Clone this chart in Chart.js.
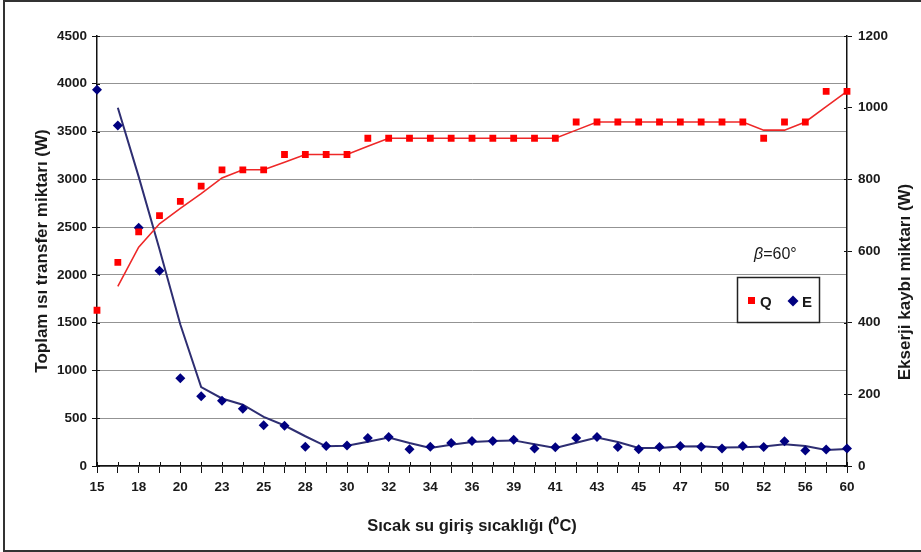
<!DOCTYPE html>
<html>
<head>
<meta charset="utf-8">
<script src="https://cdn.jsdelivr.net/npm/chart.js@4/dist/chart.umd.min.js"></script>
<style>
  html, body { margin: 0; padding: 0; background: #fff; }
  #wrap { position: relative; width: 921px; height: 552px; overflow: hidden; }
  #c { position: absolute; left: 0; top: 0; }
  #frame { position: absolute; left: 3px; top: 0px; width: 940px; height: 552px;
           border: 2px solid #333; box-sizing: border-box; pointer-events: none; }
</style>
</head>
<body>
<div id="wrap">
  <canvas id="c" width="921" height="552"></canvas>
  <div id="frame"></div>
</div>
<script>
// Hot water inlet temperature (°C), one category per measurement
const temperatures = [15, 17, 18, 19, 20, 22, 23, 24, 25, 27, 28, 29, 30, 31, 32, 33, 34, 35, 36,
                      38, 39, 40, 41, 42, 43, 44, 45, 46, 47, 49, 50, 51, 52, 54, 56, 58, 60];

// Total heat transfer Q (W), left axis
const heatTransfer = [1630, 2130, 2450, 2620, 2770, 2930, 3100, 3100, 3100, 3260, 3260, 3260, 3260,
                      3430, 3430, 3430, 3430, 3430, 3430, 3430, 3430, 3430, 3430,
                      3600, 3600, 3600, 3600, 3600, 3600, 3600, 3600, 3600,
                      3430, 3600, 3600, 3920, 3920];

// Exergy loss E (W), right axis
const exergyLoss = [1050, 950, 665, 545, 245, 195, 182, 160, 114, 112, 54, 56, 57, 78, 81, 47, 54, 64,
                    70, 70, 73, 49, 52, 78, 81, 53, 47, 53, 56, 54, 49, 56, 53, 69, 43, 46, 49];

// Axis tick values
const leftTicks = [0, 500, 1000, 1500, 2000, 2500, 3000, 3500, 4000, 4500];
const rightTicks = [0, 200, 400, 600, 800, 1000, 1200];

// Two-period moving-average trend line of a series
function movingAverage(values) {
  return values.map((v, i) => (i === 0 ? null : (values[i - 1] + v) / 2));
}

const FONT = '"Liberation Sans", Arial, sans-serif';
const plainNumber = v => String(v);

const decorations = {
  id: 'decorations',
  afterDraw(chart) {
    const { ctx, chartArea: a, scales } = chart;
    ctx.save();

    // short inner parts of the tick marks
    ctx.strokeStyle = '#111';
    ctx.lineWidth = 1;
    ctx.beginPath();
    scales.x.ticks.forEach((t, i) => {
      const x = Math.round(scales.x.getPixelForTick(i)) + 0.5;
      ctx.moveTo(x, a.bottom - 4); ctx.lineTo(x, a.bottom);
    });
    leftTicks.forEach(v => {
      const y = Math.round(scales.yL.getPixelForValue(v)) + 0.5;
      ctx.moveTo(a.left, y); ctx.lineTo(a.left + 3, y);
    });
    rightTicks.forEach(v => {
      const y = Math.round(scales.yR.getPixelForValue(v)) + 0.5;
      ctx.moveTo(a.right - 3, y); ctx.lineTo(a.right, y);
    });
    ctx.stroke();

    // right axis title, reading bottom to top
    ctx.save();
    ctx.translate(905, 282);
    ctx.rotate(-Math.PI / 2);
    ctx.font = 'bold 17px ' + FONT;
    ctx.fillStyle = '#1a1a1a';
    ctx.textAlign = 'center';
    ctx.textBaseline = 'middle';
    ctx.fillText('Ekserji kaybı miktarı (W)', 0, 0);
    ctx.restore();

    // inclination note
    ctx.fillStyle = '#1a1a1a';
    ctx.textBaseline = 'alphabetic';
    ctx.textAlign = 'left';
    ctx.font = 'italic 16px ' + FONT;
    ctx.fillText('β', 754, 259);
    const bw = ctx.measureText('β').width;
    ctx.font = '16px ' + FONT;
    ctx.fillText('=60°', 754 + bw, 259);

    // legend box
    ctx.fillStyle = '#fff';
    ctx.fillRect(737, 277, 82, 45);
    ctx.strokeStyle = '#222';
    ctx.lineWidth = 1.5;
    ctx.strokeRect(737.5, 277.5, 82, 45);
    ctx.fillStyle = '#ff0000';
    ctx.fillRect(748, 297, 7, 7);
    ctx.fillStyle = '#000080';
    ctx.beginPath();
    ctx.moveTo(793, 295.5); ctx.lineTo(798.5, 301); ctx.lineTo(793, 306.5); ctx.lineTo(787.5, 301);
    ctx.closePath(); ctx.fill();
    ctx.fillStyle = '#1a1a1a';
    ctx.font = 'bold 15px ' + FONT;
    ctx.fillText('Q', 760, 306.5);
    ctx.fillText('E', 802, 306.5);

    ctx.restore();
  }
};

new Chart(document.getElementById('c'), {
  type: 'line',
  data: {
    labels: temperatures,
    datasets: [
      {
        label: 'Q',
        data: heatTransfer,
        yAxisID: 'yL',
        showLine: false,
        pointStyle: 'rect',
        pointRadius: 4.8,
        pointBackgroundColor: '#ff0000',
        pointBorderWidth: 0,
        order: 1
      },
      {
        label: 'E',
        data: exergyLoss,
        yAxisID: 'yR',
        showLine: false,
        pointStyle: 'rectRot',
        pointRadius: 5,
        pointBackgroundColor: '#000080',
        pointBorderWidth: 0,
        order: 1
      },
      {
        label: 'Q trend',
        data: movingAverage(heatTransfer),
        yAxisID: 'yL',
        borderColor: '#ee2828',
        borderWidth: 1.6,
        pointRadius: 0,
        tension: 0,
        order: 2
      },
      {
        label: 'E trend',
        data: movingAverage(exergyLoss),
        yAxisID: 'yR',
        borderColor: '#2e2e72',
        borderWidth: 2,
        pointRadius: 0,
        tension: 0,
        order: 2
      }
    ]
  },
  options: {
    responsive: false,
    animation: false,
    events: [],
    layout: { padding: { top: 36, left: 0, right: 0, bottom: 0 } },
    plugins: { legend: { display: false }, tooltip: { enabled: false } },
    scales: {
      x: {
        type: 'category',
        offset: false,
        grid: { drawOnChartArea: false, drawTicks: true, tickLength: 7, color: '#111', lineWidth: 1 },
        border: { display: true, color: '#111', width: 1.5 },
        ticks: {
          autoSkip: false,
          maxRotation: 0,
          padding: 6,
          color: '#1a1a1a',
          font: { family: FONT, size: 13.5, weight: 'bold' },
          callback: function (val, i) { return i % 2 === 0 ? this.getLabelForValue(val) : ''; }
        },
        title: {
          display: true,
          text: 'Sıcak su giriş sıcaklığı (⁰C)',
          color: '#1a1a1a',
          font: { family: FONT, size: 16.5, weight: 'bold' },
          padding: { top: 4, bottom: 16 }
        },
        afterFit(scale) { scale.height = 86; }
      },
      yL: {
        position: 'left',
        min: 0, max: 4500,
        afterBuildTicks(scale) { scale.ticks = leftTicks.map(v => ({ value: v })); },
        grid: { drawOnChartArea: true, drawTicks: true, tickLength: 5, lineWidth: 1,
                color: '#939393', tickColor: '#111' },
        border: { display: true, color: '#111', width: 1.5 },
        ticks: { padding: 5, color: '#1a1a1a', font: { family: FONT, size: 13.5, weight: 'bold' },
                 callback: plainNumber },
        title: {
          display: true,
          text: 'Toplam ısı transfer miktarı (W)',
          color: '#1a1a1a',
          font: { family: FONT, size: 17, weight: 'bold' },
          padding: { top: 32, bottom: 4 }
        },
        afterFit(scale) { scale.width = 97; }
      },
      yR: {
        position: 'right',
        min: 0, max: 1200,
        afterBuildTicks(scale) { scale.ticks = rightTicks.map(v => ({ value: v })); },
        grid: { drawOnChartArea: false, drawTicks: true, tickLength: 5, color: '#111' },
        border: { display: true, color: '#111', width: 1.5 },
        ticks: { padding: 6, color: '#1a1a1a', font: { family: FONT, size: 13.5, weight: 'bold' },
                 callback: plainNumber },
        afterFit(scale) { scale.width = 74; }
      }
    }
  },
  plugins: [decorations]
});
</script>
</body>
</html>
